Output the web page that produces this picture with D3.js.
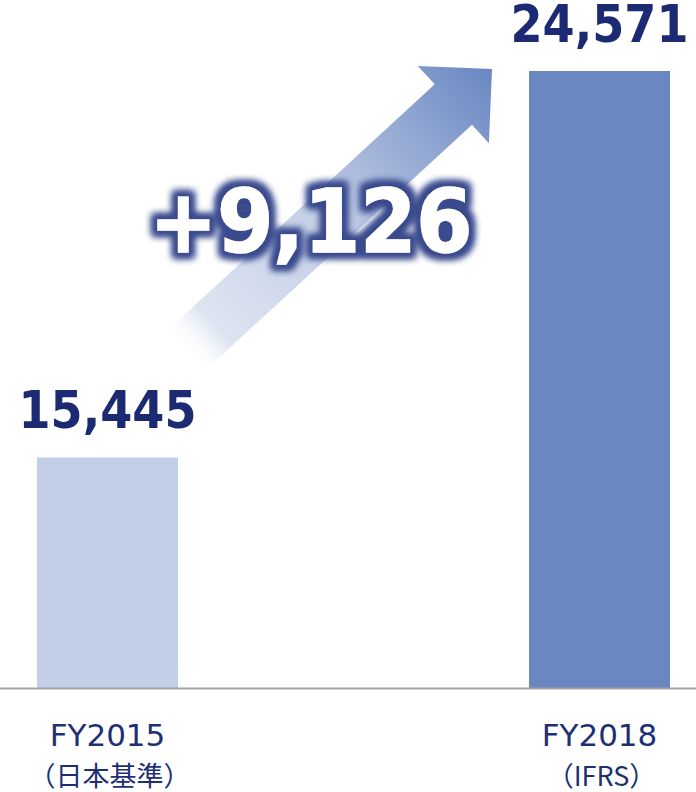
<!DOCTYPE html>
<html><head><meta charset="utf-8">
<script src="https://cdn.jsdelivr.net/npm/d3@7/dist/d3.min.js"></script>
<style>html,body{margin:0;padding:0;background:#fff;}svg{display:block;}</style>
</head><body>
<script>
const categories = ["FY2015", "FY2018"];
const subLabels = ["（日本基準）", "（IFRS）"];
const values = [15445, 24571];
const barColors = ["#c3cfe6", "#6a87c2"];

const W = 696, H = 792;
const svg = d3.select("body").append("svg").attr("width", W).attr("height", H);

const x = d3.scaleBand().domain(categories).range([37, 670]).paddingInner(0.7134).paddingOuter(0);
const y = d3.scaleLinear().domain([10000, 24571]).range([688, 71]);
const bw = x.bandwidth();

const defs = svg.append("defs");

// bars
svg.selectAll("rect.bar").data(values).enter().append("rect")
  .attr("x", (d, i) => x(categories[i]))
  .attr("y", d => y(d))
  .attr("width", bw)
  .attr("height", d => y.range()[0] - y(d))
  .attr("fill", (d, i) => barColors[i]);

// baseline
svg.append("line").attr("x1", 0).attr("x2", W)
  .attr("y1", y.range()[0] + 0.5).attr("y2", y.range()[0] + 0.5)
  .attr("stroke", "#a3a3a3").attr("stroke-width", 2);

// arrow
const tip = [x(categories[1]) - 37, y(values[1]) - 2];
const tail = [x(categories[0]) + bw + 5, y(values[0]) - 104];
const dx = tip[0] - tail[0], dy = tip[1] - tail[1];
const len = Math.hypot(dx, dy);
const ux = dx / len, uy = dy / len;
const nx = -uy, ny = ux;
const hw = 27.5, head = 52.5;
function P(a, b) { return [tail[0] + ux * a + nx * b, tail[1] + uy * a + ny * b]; }
const L = len;
const pts = [P(0, -hw), P(L - head, -hw), P(L - head, -head), P(L, 0), P(L - head, head), P(L - head, hw), P(0, hw)];
const grad = defs.append("linearGradient").attr("id", "ag").attr("gradientUnits", "userSpaceOnUse")
  .attr("x1", tail[0]).attr("y1", tail[1]).attr("x2", tip[0]).attr("y2", tip[1]);
grad.append("stop").attr("offset", 0).attr("stop-color", "#ffffff").attr("stop-opacity", 0);
grad.append("stop").attr("offset", 0.1).attr("stop-color", "#dde4f1");
grad.append("stop").attr("offset", 0.45).attr("stop-color", "#c4cfe6");
grad.append("stop").attr("offset", 1).attr("stop-color", "#6a87c2");
svg.append("path").attr("d", d3.line()(pts) + "Z").attr("fill", "url(#ag)");

// glow filter
const f = defs.append("filter").attr("id", "glow").attr("x", "-20%").attr("y", "-40%").attr("width", "140%").attr("height", "180%");
f.append("feMorphology").attr("in", "SourceAlpha").attr("operator", "dilate").attr("radius", 5).attr("result", "dil");
f.append("feGaussianBlur").attr("in", "dil").attr("stdDeviation", 3.5).attr("result", "blur");
f.append("feFlood").attr("flood-color", "#3a4a8e").attr("result", "fl");
f.append("feComposite").attr("in", "fl").attr("in2", "blur").attr("operator", "in").attr("result", "sh");
const m = f.append("feMerge");
m.append("feMergeNode").attr("in", "sh");
m.append("feMergeNode").attr("in", "sh");
m.append("feMergeNode").attr("in", "SourceGraphic");

// difference text
svg.append("text")
  .attr("x", 311).attr("y", 252)
  .attr("text-anchor", "middle")
  .attr("font-family", "'DejaVu Sans', Verdana, sans-serif")
  .attr("font-weight", "bold").attr("font-size", 87)
  .attr("textLength", 323).attr("lengthAdjust", "spacingAndGlyphs")
  .attr("fill", "#ffffff").attr("stroke", "#ffffff").attr("stroke-width", 1.5)
  .attr("filter", "url(#glow)")
  .text("+" + d3.format(",")(values[1] - values[0]));

// value labels
svg.selectAll("text.val").data(values).enter().append("text")
  .attr("x", (d, i) => x(categories[i]) + bw / 2)
  .attr("y", d => y(d) - 29)
  .attr("text-anchor", "middle")
  .attr("font-family", "'DejaVu Sans', Verdana, sans-serif")
  .attr("font-weight", "bold").attr("font-size", 51)
  .attr("textLength", 178).attr("lengthAdjust", "spacingAndGlyphs")
  .attr("fill", "#1b2a72")
  .text(d => d3.format(",")(d));

// category labels
categories.forEach((c, i) => {
  const cx = x(c) + bw / 2;
  svg.append("text").attr("x", cx).attr("y", 746)
    .attr("text-anchor", "middle")
    .attr("font-family", "'DejaVu Sans', Verdana, sans-serif")
    .attr("font-size", 31).attr("fill", "#1f2f74")
    .text(c);
  svg.append("text").attr("x", cx + 2).attr("y", 786)
    .attr("text-anchor", "middle")
    .attr("font-family", "'Noto Sans CJK JP', sans-serif")
    .attr("font-size", 27).attr("fill", "#1f2f74")
    .text(subLabels[i]);
});
</script>
</body></html>
